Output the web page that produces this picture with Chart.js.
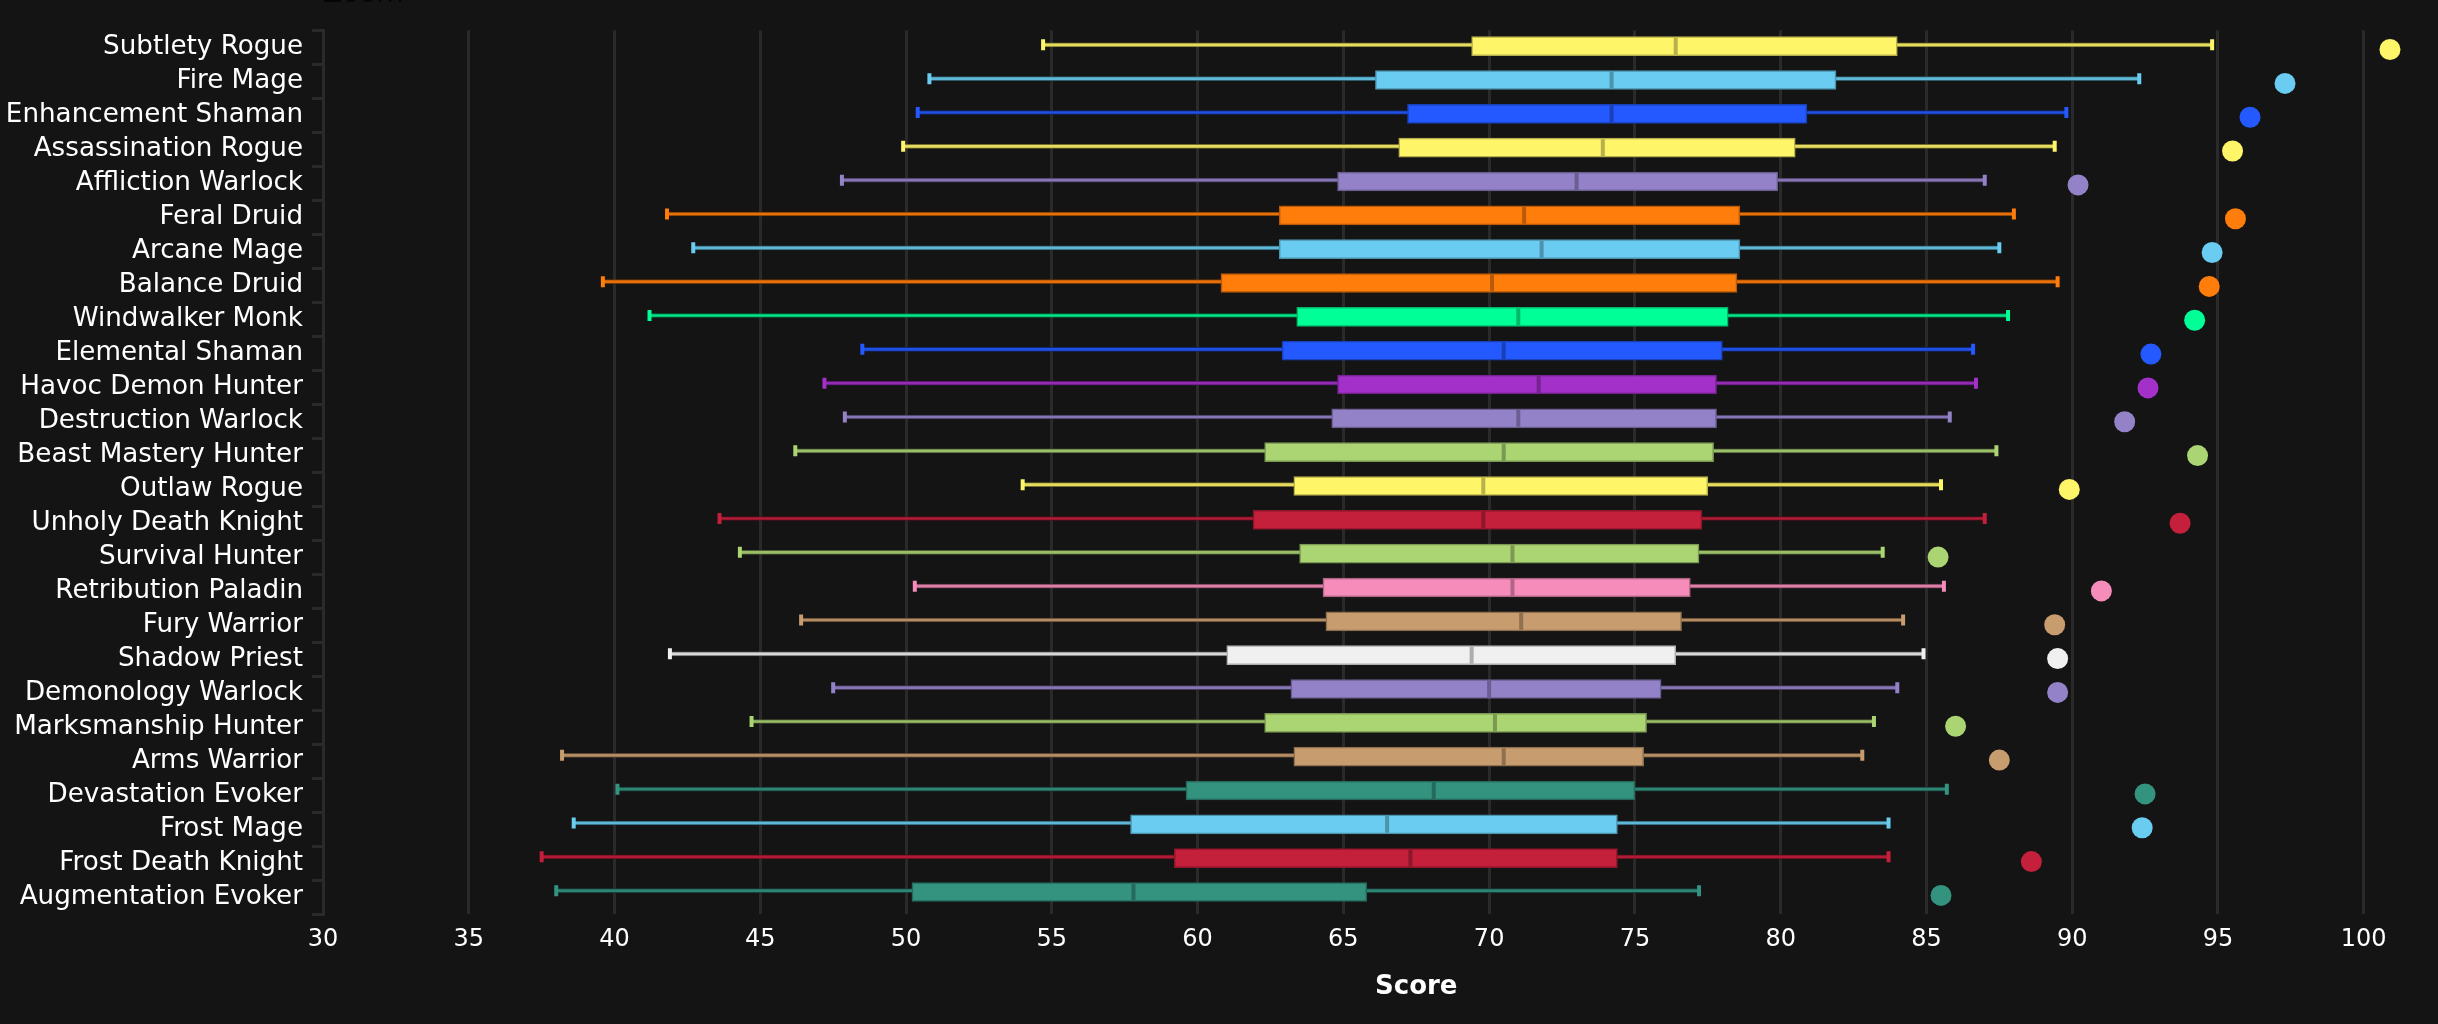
<!DOCTYPE html>
<html>
<head>
<meta charset="utf-8">
<title>Score</title>
<script src="https://cdn.jsdelivr.net/npm/chart.js@4"></script>
<style>
  html, body { margin: 0; padding: 0; width: 2438px; height: 1024px; overflow: hidden; background: #141414; }
  #wrap { position: absolute; left: 0; top: -34px; width: 2438px; height: 1058px; overflow: hidden; }
  canvas { display: block; }
</style>
</head>
<body>
<div id="wrap"><canvas id="c" width="2522" height="1058"></canvas></div>
<script>
const specs = ['Subtlety Rogue', 'Fire Mage', 'Enhancement Shaman', 'Assassination Rogue', 'Affliction Warlock', 'Feral Druid', 'Arcane Mage', 'Balance Druid', 'Windwalker Monk', 'Elemental Shaman', 'Havoc Demon Hunter', 'Destruction Warlock', 'Beast Mastery Hunter', 'Outlaw Rogue', 'Unholy Death Knight', 'Survival Hunter', 'Retribution Paladin', 'Fury Warrior', 'Shadow Priest', 'Demonology Warlock', 'Marksmanship Hunter', 'Arms Warrior', 'Devastation Evoker', 'Frost Mage', 'Frost Death Knight', 'Augmentation Evoker']
const colors = ['#FFF569', '#69CCF0', '#2459FF', '#FFF569', '#9482C9', '#FF7D0A', '#69CCF0', '#FF7D0A', '#00FF96', '#2459FF', '#A330C9', '#9482C9', '#ABD473', '#FFF569', '#C41F3B', '#ABD473', '#F58CBA', '#C79C6E', '#F0F0F0', '#9482C9', '#ABD473', '#C79C6E', '#33937F', '#69CCF0', '#C41F3B', '#33937F']
const low = [54.7, 50.8, 50.4, 49.9, 47.8, 41.8, 42.7, 39.6, 41.2, 48.5, 47.2, 47.9, 46.2, 54.0, 43.6, 44.3, 50.3, 46.4, 41.9, 47.5, 44.7, 38.2, 40.1, 38.6, 37.5, 38.0]
const q1 = [69.4, 66.1, 67.2, 66.9, 64.8, 62.8, 62.8, 60.8, 63.4, 62.9, 64.8, 64.6, 62.3, 63.3, 61.9, 63.5, 64.3, 64.4, 61.0, 63.2, 62.3, 63.3, 59.6, 57.7, 59.2, 50.2]
const median = [76.4, 74.2, 74.2, 73.9, 73.0, 71.2, 71.8, 70.1, 71.0, 70.5, 71.7, 71.0, 70.5, 69.8, 69.8, 70.8, 70.8, 71.1, 69.4, 70.0, 70.2, 70.5, 68.1, 66.5, 67.3, 57.8]
const q3 = [84.0, 81.9, 80.9, 80.5, 79.9, 78.6, 78.6, 78.5, 78.2, 78.0, 77.8, 77.8, 77.7, 77.5, 77.3, 77.2, 76.9, 76.6, 76.4, 75.9, 75.4, 75.3, 75.0, 74.4, 74.4, 65.8]
const high = [94.8, 92.3, 89.8, 89.4, 87.0, 88.0, 87.5, 89.5, 87.8, 86.6, 86.7, 85.8, 87.4, 85.5, 87.0, 83.5, 85.6, 84.2, 84.9, 84.0, 83.2, 82.8, 85.7, 83.7, 83.7, 77.2]
const best = [100.9, 97.3, 96.1, 95.5, 90.2, 95.6, 94.8, 94.7, 94.2, 92.7, 92.6, 91.8, 94.3, 89.9, 93.7, 85.4, 91.0, 89.4, 89.5, 89.5, 86.0, 87.5, 92.5, 92.4, 88.6, 85.5]

const fontFamily = '"DejaVu Sans", sans-serif'
const gridColor = '#2a2a2a'

// darken a hex colour by factor f
function shade(hex, f) {
  const n = parseInt(hex.slice(1), 16)
  const r = Math.round((n >> 16) * f)
  const g = Math.round(((n >> 8) & 255) * f)
  const b = Math.round((n & 255) * f)
  return `rgb(${r},${g},${b})`
}

const rows = specs.map((_, i) => i)
const whiskerRow = rows.map(i => i - 0.04)
const dotRow = rows.map(i => i + 0.1)
const edge = colors.map(c => shade(c, 0.72))

const marks = (xs, ys) => xs.map((x, i) => ({ x, y: ys[i] }))
const spans = (as, bs, ys) => as.map((a, i) => ({ x: [a, bs[i]], y: ys[i] }))

const capStyle = {
  type: 'line',
  indexAxis: 'x',
  xAxisID: 'x',
  yAxisID: 'pos',
  showLine: false,
  pointStyle: 'line',
  pointRotation: 90,
  pointRadius: 5.5,
  pointBorderWidth: 4,
  pointBorderColor: colors,
  pointBackgroundColor: colors,
}

new Chart(document.getElementById('c'), {
  type: 'bar',
  data: {
    labels: specs,
    datasets: [
      {
        label: 'Whisker',
        data: spans(low, high, whiskerRow),
        yAxisID: 'pos',
        backgroundColor: colors.map(c => shade(c, 0.9)),
        borderColor: colors.map(c => shade(c, 0.45)),
        borderWidth: 1,
        borderSkipped: false,
        barThickness: 4,
        order: 5,
      },
      { ...capStyle, label: 'Min', data: marks(low, whiskerRow), order: 4 },
      { ...capStyle, label: 'Max', data: marks(high, whiskerRow), order: 4 },
      {
        label: 'Box',
        data: spans(q1, q3, rows),
        yAxisID: 'pos',
        backgroundColor: colors,
        borderColor: edge,
        borderWidth: 1.5,
        borderSkipped: false,
        barThickness: 19,
        order: 3,
      },
      {
        ...capStyle,
        label: 'Median',
        data: marks(median, rows),
        pointRadius: 8.5,
        pointBorderWidth: 4,
        pointBorderColor: colors.map(c => shade(c, 0.72)),
        order: 2,
      },
      {
        type: 'line',
        indexAxis: 'x',
        label: 'Best',
        xAxisID: 'x',
        yAxisID: 'pos',
        showLine: false,
        data: marks(best, dotRow),
        pointStyle: 'circle',
        pointRadius: 10.5,
        pointBorderWidth: 0,
        pointBackgroundColor: colors,
        order: 1,
      },
    ],
  },
  options: {
    indexAxis: 'y',
    responsive: false,
    animation: false,
    devicePixelRatio: 1,
    grouped: false,
    layout: { padding: { top: 12, right: 0, bottom: 21, left: 0 } },
    plugins: {
      legend: { display: false },
      tooltip: { enabled: false },
      title: {
        display: true,
        text: 'Zoom',
        align: 'start',
        fullSize: false,
        color: '#060606',
        font: { family: fontFamily, size: 28, weight: 'normal' },
        padding: { top: 0, bottom: 19 },
      },
    },
    scales: {
      x: {
        type: 'linear',
        min: 30,
        max: 105,
        afterBuildTicks: s => { s.ticks = s.ticks.filter(t => t.value < 105) },
        ticks: {
          stepSize: 5,
          color: '#ffffff',
          maxRotation: 0,
          autoSkip: false,
          padding: 11,
          font: { family: fontFamily, size: 24 },
        },
        grid: { color: gridColor, lineWidth: 3, drawTicks: false },
        border: { display: false },
        title: {
          display: true,
          text: 'Score',
          color: '#ffffff',
          font: { family: fontFamily, size: 26, weight: 'bold' },
          padding: { top: 7, bottom: 0 },
        },
      },
      y: {
        type: 'category',
        afterFit: s => { s.width = 323 },
        ticks: {
          color: '#ffffff',
          padding: 9,
          autoSkip: false,
          font: { family: fontFamily, size: 26.2 },
        },
        grid: { offset: true, color: gridColor, lineWidth: 3, tickLength: 11, drawOnChartArea: false },
        border: { display: true, color: gridColor, width: 3 },
      },
      pos: {
        type: 'linear',
        display: false,
        reverse: true,
        offset: false,
        min: -0.46,
        max: 25.65,
      },
    },
  },
})
</script>
</body>
</html>
